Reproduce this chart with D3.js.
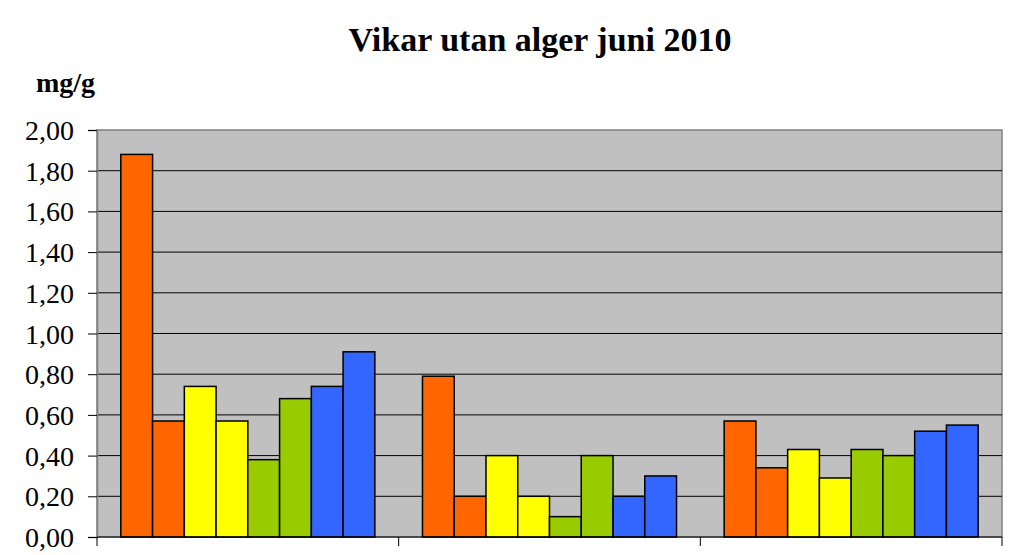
<!DOCTYPE html>
<html><head><meta charset="utf-8">
<script src="https://cdn.jsdelivr.net/npm/d3@7"></script>
<style>body{margin:0;background:#fff}svg{display:block}text{font-family:"Liberation Serif","Times New Roman",serif}</style>
</head><body>
<svg id="c" width="1024" height="555"></svg>
<script>
const title = "Vikar utan alger juni 2010";
const yLabel = "mg/g";
const groups = ["A", "B", "C"];
const seriesNames = ["s1","s2","s3","s4","s5","s6","s7","s8"];
const seriesColors = ["#FF6600","#FF6600","#FFFF00","#FFFF00","#99CC00","#99CC00","#3366FF","#3366FF"];
const values = [
  [1.88, 0.57, 0.74, 0.57, 0.38, 0.68, 0.74, 0.91],
  [0.79, 0.20, 0.40, 0.20, 0.10, 0.40, 0.20, 0.30],
  [0.57, 0.34, 0.43, 0.29, 0.43, 0.40, 0.52, 0.55]
];
const yTicks = [0,0.2,0.4,0.6,0.8,1.0,1.2,1.4,1.6,1.8,2.0];

const svg = d3.select("#c");
const L = 97, R = 1002, T = 130, B = 537;
const x0 = d3.scaleBand().domain(groups).range([L, R]).paddingInner(0).paddingOuter(0);
const gw = x0.bandwidth();
const barW = gw / 9.5;
const x1 = d3.scaleBand().domain(seriesNames).range([barW*0.75, gw - barW*0.75]).padding(0);
const y = d3.scaleLinear().domain([0, 2]).range([B, T]);

svg.append("rect").attr("x", L).attr("y", T).attr("width", R-L).attr("height", B-T)
  .attr("fill", "#C0C0C0").attr("stroke", "#808080").attr("stroke-width", 1.5);

svg.append("g").selectAll("line").data(yTicks.filter(d => d > 0 && d < 2)).join("line")
  .attr("x1", L).attr("x2", R).attr("y1", d => y(d)).attr("y2", d => y(d))
  .attr("stroke", "#000").attr("stroke-width", 1);

const g = svg.append("g").selectAll("g").data(values).join("g")
  .attr("transform", (d,i) => `translate(${x0(groups[i])},0)`);
g.selectAll("rect").data(d => d.map((v,j) => ({v, j}))).join("rect")
  .attr("x", d => x1(seriesNames[d.j]))
  .attr("width", x1.bandwidth())
  .attr("y", d => y(d.v))
  .attr("height", d => B - y(d.v))
  .attr("fill", d => seriesColors[d.j])
  .attr("stroke", "#000").attr("stroke-width", 1.5);

const yAxis = d3.axisLeft(y).tickValues(yTicks).tickSize(9).tickPadding(14)
  .tickFormat(d => d3.format(".2f")(d).replace(".", ","));
const ya = svg.append("g").attr("transform", `translate(${L},0)`).call(yAxis);
ya.attr("font-family", null).attr("font-size", null);
ya.select(".domain").attr("stroke", "#808080").attr("stroke-width", 1.5);
ya.selectAll(".tick line").attr("stroke", "#000");
ya.selectAll("text").style("font-family", "'Liberation Serif','Times New Roman',serif")
  .style("font-size", "28px").attr("fill", "#000").attr("dy", "0.34em");

const xEdges = [L, ...groups.map(gname => x0(gname) + gw)];
svg.append("line").attr("x1", L).attr("x2", R).attr("y1", B).attr("y2", B)
  .attr("stroke", "#000").attr("stroke-width", 1);
svg.append("g").selectAll("line").data(xEdges).join("line")
  .attr("x1", d => d).attr("x2", d => d).attr("y1", B).attr("y2", B + 9)
  .attr("stroke", "#000").attr("stroke-width", 1);

svg.append("text").attr("x", 540).attr("y", 51).attr("text-anchor", "middle")
  .style("font-weight", "bold").style("font-size", "34px").text(title);
svg.append("text").attr("x", 36).attr("y", 92)
  .style("font-weight", "bold").style("font-size", "28px").text(yLabel);
</script>
</body></html>
